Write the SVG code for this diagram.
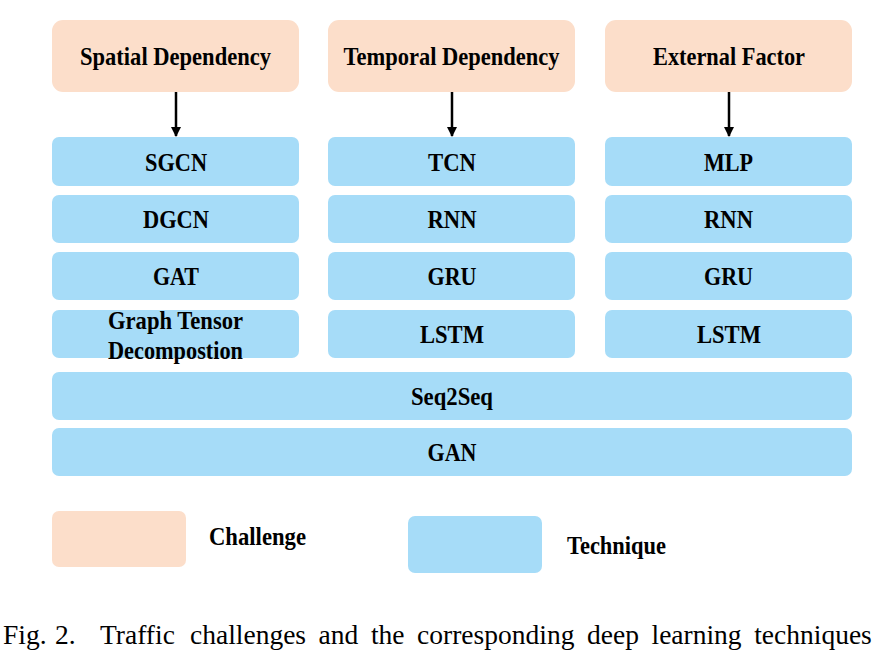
<svg xmlns="http://www.w3.org/2000/svg" width="876" height="662" viewBox="0 0 876 662">
<defs>
<marker id="ah" viewBox="0 0 10 10" refX="9" refY="5" markerWidth="4" markerHeight="4" orient="auto" markerUnits="strokeWidth">
<path d="M0,0 L10,5 L0,10 Z" fill="#000"/>
</marker>
<style>
.ch{fill:#FCDECA;}
.te{fill:#A6DCF8;}
.lb{font-family:"Liberation Serif","Times New Roman",serif;font-weight:bold;font-size:26px;fill:#000;text-anchor:middle;}
.lg{font-family:"Liberation Serif","Times New Roman",serif;font-weight:bold;font-size:26px;fill:#000;}
.cap{font-family:"Liberation Serif","Times New Roman",serif;font-size:27.5px;fill:#000;}
.ar{stroke:#000;stroke-width:2.5;fill:none;}
</style>
</defs>
<rect width="876" height="662" fill="#fff"/>
<g id="spatial"><rect class="ch" x="52" y="20" width="247" height="72" rx="11"/><text class="lb" x="175.5" y="65" textLength="191" lengthAdjust="spacingAndGlyphs">Spatial Dependency</text></g>
<g id="temporal"><rect class="ch" x="328" y="20" width="247" height="72" rx="11"/><text class="lb" x="451.5" y="65" textLength="216" lengthAdjust="spacingAndGlyphs">Temporal Dependency</text></g>
<g id="external"><rect class="ch" x="605" y="20" width="247" height="72" rx="11"/><text class="lb" x="729" y="65" textLength="152" lengthAdjust="spacingAndGlyphs">External Factor</text></g>

<g id="sgcn"><rect class="te" x="52" y="137" width="247" height="49" rx="7"/><text class="lb" x="176" y="171" textLength="62" lengthAdjust="spacingAndGlyphs">SGCN</text></g>
<g id="dgcn"><rect class="te" x="52" y="195" width="247" height="48" rx="7"/><text class="lb" x="176" y="228" textLength="66" lengthAdjust="spacingAndGlyphs">DGCN</text></g>
<g id="gat"><rect class="te" x="52" y="252" width="247" height="48" rx="7"/><text class="lb" x="176" y="285" textLength="46" lengthAdjust="spacingAndGlyphs">GAT</text></g>
<g id="gtd"><rect class="te" x="52" y="310" width="247" height="48" rx="7"/><text class="lb" x="175.5" y="329" textLength="135" lengthAdjust="spacingAndGlyphs">Graph Tensor</text><text class="lb" x="175.5" y="359" textLength="135" lengthAdjust="spacingAndGlyphs">Decompostion</text></g>

<g id="tcn"><rect class="te" x="328" y="137" width="247" height="49" rx="7"/><text class="lb" x="452" y="171" textLength="48" lengthAdjust="spacingAndGlyphs">TCN</text></g>
<g id="rnn1"><rect class="te" x="328" y="195" width="247" height="48" rx="7"/><text class="lb" x="452" y="228" textLength="49" lengthAdjust="spacingAndGlyphs">RNN</text></g>
<g id="gru1"><rect class="te" x="328" y="252" width="247" height="48" rx="7"/><text class="lb" x="452" y="285" textLength="49" lengthAdjust="spacingAndGlyphs">GRU</text></g>
<g id="lstm1"><rect class="te" x="328" y="310" width="247" height="48" rx="7"/><text class="lb" x="452" y="343" textLength="64" lengthAdjust="spacingAndGlyphs">LSTM</text></g>

<g id="mlp"><rect class="te" x="605" y="137" width="247" height="49" rx="7"/><text class="lb" x="728.5" y="171" textLength="49" lengthAdjust="spacingAndGlyphs">MLP</text></g>
<g id="rnn2"><rect class="te" x="605" y="195" width="247" height="48" rx="7"/><text class="lb" x="728.5" y="228" textLength="49" lengthAdjust="spacingAndGlyphs">RNN</text></g>
<g id="gru2"><rect class="te" x="605" y="252" width="247" height="48" rx="7"/><text class="lb" x="728.5" y="285" textLength="49" lengthAdjust="spacingAndGlyphs">GRU</text></g>
<g id="lstm2"><rect class="te" x="605" y="310" width="247" height="48" rx="7"/><text class="lb" x="729" y="343" textLength="64" lengthAdjust="spacingAndGlyphs">LSTM</text></g>

<g id="seq2seq"><rect class="te" x="52" y="372" width="800" height="48" rx="7"/><text class="lb" x="452" y="405" textLength="82" lengthAdjust="spacingAndGlyphs">Seq2Seq</text></g>
<g id="gan"><rect class="te" x="52" y="428" width="800" height="48" rx="7"/><text class="lb" x="452" y="461" textLength="49" lengthAdjust="spacingAndGlyphs">GAN</text></g>

<g id="legend-challenge"><rect class="ch" x="52" y="511" width="134" height="56" rx="7"/><text class="lg" x="209" y="545" textLength="97" lengthAdjust="spacingAndGlyphs">Challenge</text></g>
<g id="legend-technique"><rect class="te" x="408" y="516" width="134" height="57" rx="7"/><text class="lg" x="567" y="554" textLength="99" lengthAdjust="spacingAndGlyphs">Technique</text></g>

<g id="connectors">
<line class="ar" x1="176" y1="92" x2="176" y2="136" marker-end="url(#ah)"/>
<line class="ar" x1="452" y1="92" x2="452" y2="136" marker-end="url(#ah)"/>
<line class="ar" x1="729" y1="92" x2="729" y2="136" marker-end="url(#ah)"/>
</g>

<text class="cap" y="644"><tspan x="3">Fig.</tspan><tspan x="55">2.</tspan><tspan x="100">Traffic</tspan><tspan x="190">challenges</tspan><tspan x="318.6">and</tspan><tspan x="370.9">the</tspan><tspan x="417.1">corresponding</tspan><tspan x="587">deep</tspan><tspan x="651.5">learning</tspan><tspan x="754.2">techniques</tspan></text>
</svg>
